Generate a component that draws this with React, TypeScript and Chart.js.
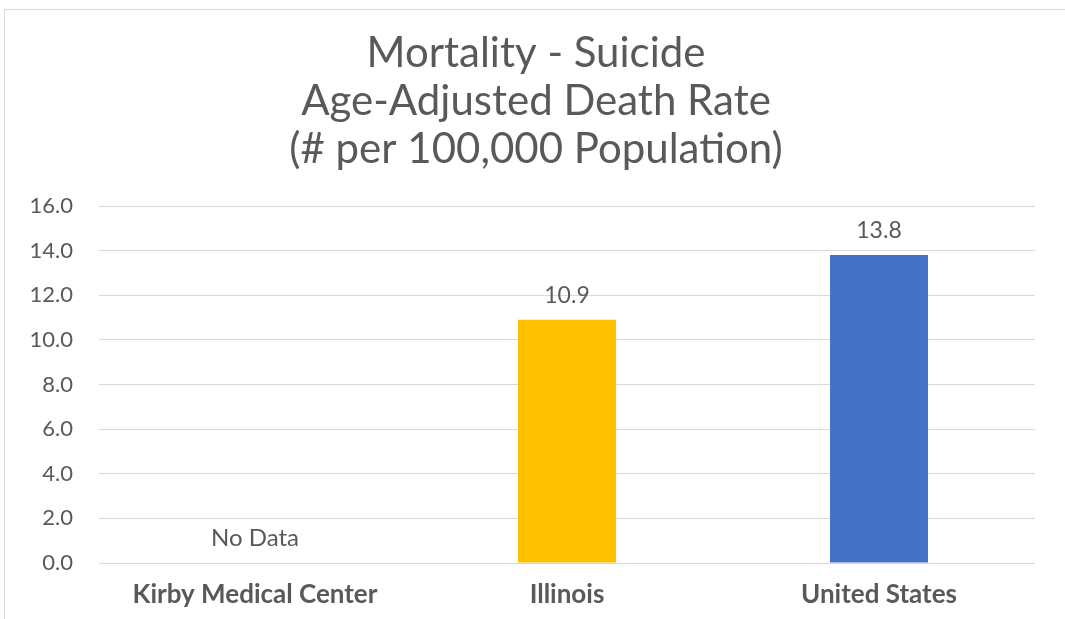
import React, { useEffect, useRef } from "react";
import { Chart, registerables } from "chart.js";

Chart.register(...registerables);

const titleLines = ["Mortality - Suicide", "Age-Adjusted Death Rate", "(# per 100,000 Population)"];
const categories = ["Kirby Medical Center", "Illinois", "United States"];
const values: (number | null)[] = [null, 10.9, 13.8];
const barColors = ["#A5A5A5", "#FFC000", "#4472C4"];
const missingLabel = "No Data";
const yMin = 0;
const yMax = 16;
const yStep = 2;

const FONT = "Lato, 'Open Sans', sans-serif";
const TEXT = "#595959";

const borderPlugin = {
  id: "outerBorder",
  beforeDraw(chart: any) {
    const ctx = chart.ctx;
    ctx.save();
    ctx.fillStyle = "#ffffff";
    ctx.fillRect(0, 0, chart.width, chart.height);
    ctx.strokeStyle = "#d9d9d9";
    ctx.lineWidth = 1;
    ctx.strokeRect(4.5, 9.5, chart.width + 20, chart.height + 20);
    ctx.restore();
  },
};

const titlePlugin = {
  id: "customTitle",
  afterDraw(chart: any) {
    const ctx = chart.ctx;
    ctx.save();
    ctx.fillStyle = TEXT;
    ctx.font = `42px ${FONT}`;
    ctx.textAlign = "center";
    ctx.textBaseline = "alphabetic";
    const cx = 536;
    titleLines.forEach((line, i) => {
      ctx.fillText(line, cx, 67 + i * 48);
    });
    ctx.restore();
  },
};

const valueLabelPlugin = {
  id: "valueLabels",
  afterDatasetsDraw(chart: any) {
    const ctx = chart.ctx;
    const meta = chart.getDatasetMeta(0);
    const yScale = chart.scales.y;
    ctx.save();
    ctx.fillStyle = TEXT;
    ctx.textAlign = "center";
    ctx.textBaseline = "alphabetic";
    meta.data.forEach((bar: any, i: number) => {
      const v = values[i];
      if (v === null || v === undefined) {
        ctx.font = `24px ${FONT}`;
        ctx.fillText(missingLabel, bar.x, yScale.getPixelForValue(0) - 17);
      } else {
        ctx.font = `23px ${FONT}`;
        ctx.fillText(v.toFixed(1), bar.x, bar.y - 17);
      }
    });
    ctx.restore();
  },
};

export default function App() {
  const ref = useRef<HTMLCanvasElement | null>(null);
  useEffect(() => {
    if (!ref.current) return;
    const chart = new Chart(ref.current, {
      type: "bar",
      data: {
        labels: categories,
        datasets: [
          {
            data: values as any,
            backgroundColor: barColors,
            barPercentage: 0.314,
            categoryPercentage: 1,
          },
        ],
      },
      options: {
        responsive: false,
        animation: false,
        layout: { padding: { left: 0, right: 30, top: 206, bottom: 0 } },
        plugins: {
          legend: { display: false },
          tooltip: { enabled: false },
          title: { display: false },
        },
        scales: {
          x: {
            grid: { display: false, drawTicks: false },
            border: { display: false },
            ticks: {
              color: TEXT,
              font: { family: FONT, size: 26, weight: "bold" },
              padding: 16,
              maxRotation: 0,
            },
            afterFit(scale: any) {
              scale.height = 56;
            },
          },
          y: {
            min: yMin,
            max: yMax,
            grid: { color: "#d9d9d9", lineWidth: 1, drawTicks: false },
            border: { display: false },
            ticks: {
              stepSize: yStep,
              color: TEXT,
              font: { family: FONT, size: 22 },
              padding: 26,
              callback: (v: any) => Number(v).toFixed(1),
            },
            afterFit(scale: any) {
              scale.width = 99;
            },
          },
        },
      },
      plugins: [borderPlugin, titlePlugin, valueLabelPlugin],
    });
    return () => chart.destroy();
  }, []);
  return (
    <div style={{ position: "absolute", left: 0, top: 0, width: 1065, height: 619, background: "#fff" }}>
      <canvas ref={ref} width={1065} height={619} style={{ display: "block" }} />
    </div>
  );
}
